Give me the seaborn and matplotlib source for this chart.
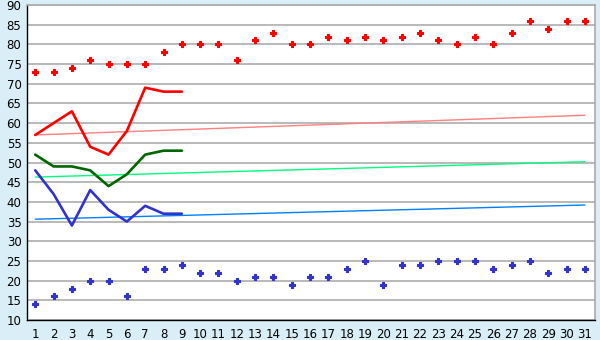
import matplotlib
matplotlib.use("Agg")
import matplotlib.pyplot as plt
import seaborn as sns
import pandas as pd

# ---- data ----
days = list(range(1, 32))
daily_max = [73, 73, 74, 76, 75, 75, 75, 78, 80, 80, 80, 76, 81, 83, 80, 80,
             82, 81, 82, 81, 82, 83, 81, 80, 82, 80, 83, 86, 84, 86, 86]
daily_min = [14, 16, 18, 20, 20, 16, 23, 23, 24, 22, 22, 20, 21, 21, 19, 21,
             21, 23, 25, 19, 24, 24, 25, 25, 25, 23, 24, 25, 22, 23, 23]
line_days = list(range(1, 10))
high_line = [57, 60, 63, 54, 52, 58, 69, 68, 68]
mean_line = [52, 49, 49, 48, 44, 47, 52, 53, 53]
low_line = [48, 42, 34, 43, 38, 35, 39, 37, 37]
trend_days = [1, 31]
trend_high = [57.0, 62.0]
trend_mean = [46.3, 50.2]
trend_low = [35.6, 39.2]
y_ticks = list(range(10, 95, 5))

sns.set_style("white")
plt.rcParams['font.family'] = ['DejaVu Sans']

bg = '#d9eef6'
fig = plt.figure(figsize=(6.0, 3.4), dpi=100, facecolor=bg)
ax = fig.add_axes([27 / 600, 1 - 320 / 340, (595 - 27) / 600, (320 - 5) / 340])
ax.set_facecolor('white')

for y in y_ticks:
    ax.axhline(y, color='#adadad', lw=1.2, zorder=0)

pts = pd.DataFrame({'day': days, 'max': daily_max, 'min': daily_min})
lines = pd.DataFrame({'day': line_days, 'high': high_line, 'mean': mean_line, 'low': low_line})
trends = pd.DataFrame({'day': trend_days, 'high': trend_high, 'mean': trend_mean, 'low': trend_low})

sns.lineplot(data=trends, x='day', y='high', color='#ff8080', lw=1.0, ax=ax)
sns.lineplot(data=trends, x='day', y='mean', color='#00ff80', lw=1.0, ax=ax)
sns.lineplot(data=trends, x='day', y='low', color='#0080ff', lw=1.0, ax=ax)

sns.lineplot(data=lines, x='day', y='high', color='#ff0000', lw=1.9, ax=ax)
sns.lineplot(data=lines, x='day', y='mean', color='#006600', lw=1.9, ax=ax)
sns.lineplot(data=lines, x='day', y='low', color='#3333cc', lw=1.9, ax=ax)

sns.scatterplot(data=pts, x='day', y='max', color='#ff0000', marker='P', s=13,
                linewidth=0.8, edgecolor='#ff0000', ax=ax)
sns.scatterplot(data=pts, x='day', y='min', color='#3333cc', marker='P', s=13,
                linewidth=0.8, edgecolor='#3333cc', ax=ax)

ax.set_xlim(0.55, 31.55)
ax.set_ylim(10, 90)
ax.set_xticks(days)
ax.set_xticklabels([str(d) for d in days])
ax.set_yticks(y_ticks)
ax.set_yticklabels([str(y) for y in y_ticks])
ax.set_xlabel('')
ax.set_ylabel('')
ax.tick_params(axis='both', which='both', direction='out', length=4, width=1,
               color='black', labelsize=8.5, labelcolor='black', pad=2)
ax.tick_params(axis='y', length=3, pad=1)
for side in ['left', 'bottom']:
    ax.spines[side].set_color('black')
    ax.spines[side].set_linewidth(1)
for side in ['right', 'top']:
    ax.spines[side].set_visible(True)
    ax.spines[side].set_color('#aaaaaa')
    ax.spines[side].set_linewidth(1.2)

fig.savefig('out.png', dpi=100, facecolor=bg)
